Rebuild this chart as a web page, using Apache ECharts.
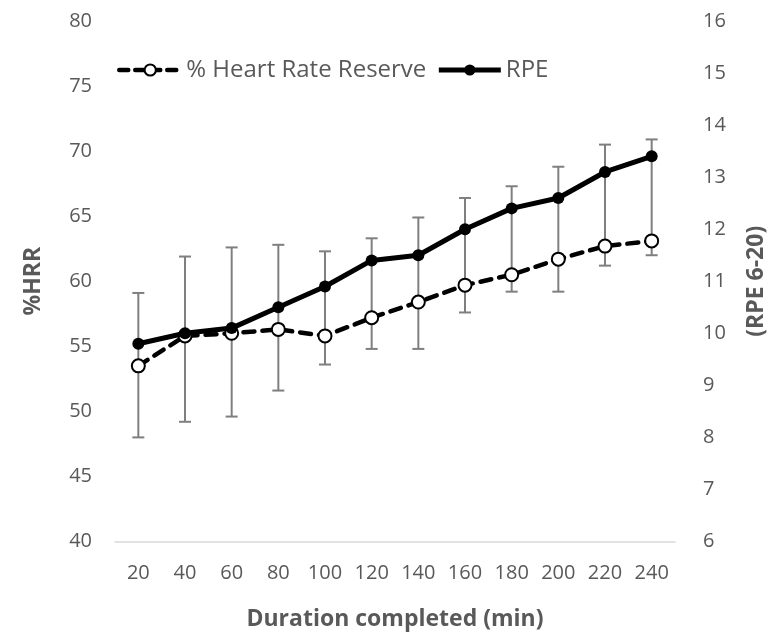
<!DOCTYPE html>
<html>
<head>
<meta charset="utf-8">
<script src="https://cdn.jsdelivr.net/npm/echarts@6/dist/echarts.min.js"></script>
<style>
  html, body { margin: 0; padding: 0; background: #fff; }
  #chart { width: 778px; height: 632px; }
</style>
</head>
<body>
<div id="chart"></div>
<script>
const categories = ['20', '40', '60', '80', '100', '120', '140', '160', '180', '200', '220', '240']
const hrrValues = [53.5, 55.8, 56.0, 56.3, 55.8, 57.2, 58.4, 59.7, 60.5, 61.7, 62.7, 63.1]
const rpeValues = [9.8, 10.0, 10.1, 10.5, 10.9, 11.4, 11.5, 12.0, 12.4, 12.6, 13.1, 13.4]
// error bar ends, in %HRR units
const errLow = [48.0, 49.2, 49.6, 51.6, 53.6, 54.8, 54.8, 57.6, 59.2, 59.2, 61.2, 62.0]
const errHigh = [59.1, 61.9, 62.6, 62.8, 62.3, 63.3, 64.9, 66.4, 67.3, 68.8, 70.5, 70.9]

const textColor = '#595959'
const font = 'Open Sans'
const hrrLine = { color: '#000', width: 4.5, type: [11, 8], cap: 'round' }
const rpeLine = { color: '#000', width: 5 }

const chart = echarts.init(document.getElementById('chart'))
chart.setOption({
  animation: false,
  textStyle: { fontFamily: font },
  grid: {
    left: 115,
    right: 103,
    top: 21,
    bottom: 90.5,
    outerBoundsMode: 'none'
  },
  legend: {
    data: [
      { name: '% Heart Rate Reserve', lineStyle: { width: 4.5, type: [9, 7], cap: 'round' } },
      { name: 'RPE', lineStyle: { width: 5 } }
    ],
    left: 112,
    top: 53,
    itemWidth: 62,
    itemHeight: 14,
    itemGap: 10,
    textStyle: { color: textColor, fontSize: 24, fontFamily: font }
  },
  xAxis: {
    type: 'category',
    data: categories,
    name: 'Duration completed (min)',
    nameLocation: 'middle',
    nameGap: 66,
    nameTextStyle: { color: textColor, fontSize: 23, fontWeight: 'bold' },
    axisLine: { lineStyle: { color: '#d9d9d9', width: 1.5 } },
    axisTick: { show: false },
    axisLabel: { color: textColor, fontSize: 20, margin: 22 }
  },
  yAxis: [
    {
      type: 'value',
      min: 40,
      max: 80,
      interval: 5,
      name: '%HRR',
      nameLocation: 'middle',
      nameGap: 70,
      nameTextStyle: { color: textColor, fontSize: 23, fontWeight: 'bold' },
      axisLine: { show: false },
      axisTick: { show: false },
      splitLine: { show: false },
      axisLabel: { color: textColor, fontSize: 20, margin: 23 }
    },
    {
      type: 'value',
      min: 6,
      max: 16,
      interval: 1,
      name: '(RPE 6-20)',
      nameLocation: 'middle',
      nameGap: 70,
      nameTextStyle: { color: textColor, fontSize: 23, fontWeight: 'bold' },
      axisLine: { show: false },
      axisTick: { show: false },
      splitLine: { show: false },
      axisLabel: { color: textColor, fontSize: 20, margin: 28 }
    }
  ],
  series: [
    {
      name: 'error',
      type: 'custom',
      yAxisIndex: 0,
      z: 1,
      encode: { x: 0, y: [1, 2] },
      data: categories.map((c, i) => [i, errLow[i], errHigh[i]]),
      renderItem(params, api) {
        const lo = api.coord([api.value(0), api.value(1)])
        const hi = api.coord([api.value(0), api.value(2)])
        const half = 6
        const style = { stroke: '#7f7f7f', lineWidth: 2 }
        return {
          type: 'group',
          children: [
            { type: 'line', shape: { x1: lo[0], y1: lo[1], x2: hi[0], y2: hi[1] }, style },
            { type: 'line', shape: { x1: hi[0] - half, y1: hi[1], x2: hi[0] + half, y2: hi[1] }, style },
            { type: 'line', shape: { x1: lo[0] - half, y1: lo[1], x2: lo[0] + half, y2: lo[1] }, style }
          ]
        }
      }
    },
    {
      name: '% Heart Rate Reserve',
      type: 'line',
      yAxisIndex: 0,
      z: 3,
      data: hrrValues,
      symbol: 'emptyCircle',
      symbolSize: 13,
      itemStyle: { color: '#000', borderColor: '#000', borderWidth: 2.5 },
      lineStyle: hrrLine
    },
    {
      name: 'RPE',
      type: 'line',
      yAxisIndex: 1,
      z: 4,
      data: rpeValues,
      symbol: 'circle',
      symbolSize: 12,
      itemStyle: { color: '#000' },
      lineStyle: rpeLine
    }
  ]
})
</script>
</body>
</html>
